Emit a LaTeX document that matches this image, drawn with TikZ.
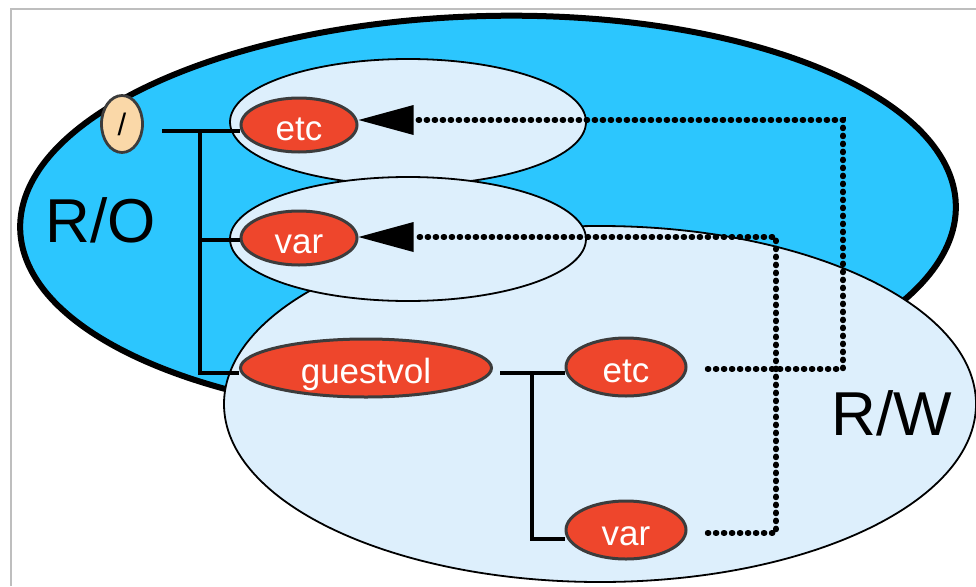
\documentclass[tikz,border=0pt]{standalone}
\usepackage{fontspec}
\setmainfont{Liberation Sans}
\usetikzlibrary{shapes.geometric,arrows.meta}

\definecolor{roblue}{RGB}{44,198,254}
\definecolor{paleblue}{RGB}{221,239,252}
\definecolor{dirred}{RGB}{238,70,44}
\definecolor{roottan}{RGB}{250,216,168}
\definecolor{edgegray}{RGB}{60,60,60}
\definecolor{framegray}{RGB}{190,190,190}

\tikzset{
  layer/.style={ellipse, draw=black, fill=paleblue, line width=1.8pt, inner sep=0pt},
  dirnode/.style={ellipse, draw=edgegray, fill=dirred, line width=3pt, inner sep=0pt,
    text=white, font=\fontsize{35}{35}\selectfont, text height=30pt, text depth=0pt},
  tree/.style={line width=3.2pt, draw=black},
  dotline/.style={line width=5.4pt, line cap=round, dash pattern=on 1.2pt off 6.8pt},
  bigtip/.style={-{Triangle[length=55pt,width=30pt,line width=0pt]}},
  zonelabel/.style={font=\fontsize{62}{62}\selectfont, text height=44pt, text depth=0pt, inner sep=0pt},
}

\begin{document}
\begin{tikzpicture}[x=1pt,y=-1pt]
\useasboundingbox (0,0) rectangle (976,586);
\fill[white] (0,0) rectangle (976,586);
\draw[framegray, line width=2.2pt] (11,586) -- (11,9) -- (976,9);

% read-only volume
\node[ellipse, draw=black, fill=roblue, line width=6pt, inner sep=0pt,
      minimum width=936pt, minimum height=402pt, rotate=1.5] (ro) at (488,217) {};

% read-write volume and the two bind zones
\node[layer, minimum width=752pt, minimum height=356pt] (rw) at (600,404) {};
\node[layer, minimum width=356pt, minimum height=126pt] (etczone) at (408,122) {};
\node[layer, minimum width=356pt, minimum height=124pt] (varzone) at (408,239) {};

\node[zonelabel] (rolabel) at (101,220) {R/O};
\node[zonelabel] (rwlabel) at (892,413) {R/W};

% directories
\node[ellipse, draw=edgegray, fill=roottan, line width=2.8pt, inner sep=0pt,
      minimum width=41pt, minimum height=57pt, font=\fontsize{31}{31}\selectfont] (root) at (122,124) {/};
\node[dirnode, minimum width=116pt, minimum height=54pt] (etcA) at (299,125) {etc};
\node[dirnode, minimum width=116pt, minimum height=54pt] (varA) at (299,238) {var};
\node[dirnode, minimum width=251pt, minimum height=58pt] (guestvol) at (366,368) {guestvol};
\node[dirnode, minimum width=120pt, minimum height=58pt] (etcB) at (626,367) {etc};
\node[dirnode, minimum width=120pt, minimum height=58pt] (varB) at (626,530) {var};

% tree of the read-only volume
\coordinate (rootstub) at (162,131);
\coordinate (trunk) at (200,131);
\coordinate (varbranch) at (200,240);
\draw[tree] (rootstub) -- (trunk) |- ([yshift=-5pt]guestvol.west);
\draw[tree] (trunk) -- ([yshift=-6pt]etcA.west);
\draw[tree] (varbranch) -- ([yshift=-2pt]varA.west);

% tree of the guest volume
\coordinate (gvstub) at (500,373);
\coordinate (split) at (532,373);
\draw[tree] (gvstub) -- ([yshift=-6pt]etcB.west);
\draw[tree] (split) |- ([yshift=-9pt]varB.west);

% bind mounts
\coordinate (etcturn) at (843,120);
\coordinate (varturn) at (776,237);
\draw[dotline, bigtip] ([xshift=20pt,yshift=-2pt]etcB.east) -| (etcturn) -- ([yshift=5pt]etcA.east);
\draw[dotline, bigtip] ([xshift=20pt,yshift=-3pt]varB.east) -| (varturn) -- ([yshift=1pt]varA.east);
\end{tikzpicture}
\end{document}
